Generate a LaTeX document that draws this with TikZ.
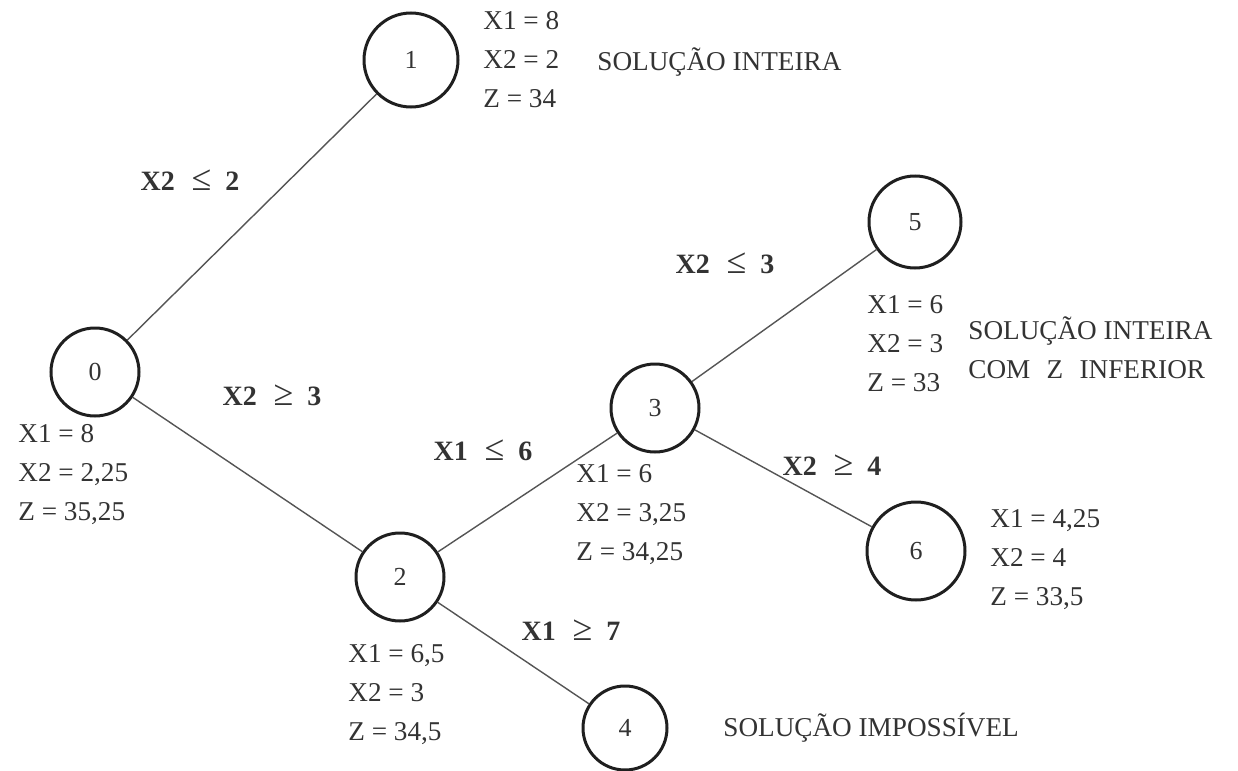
\documentclass[tikz,border=0pt]{standalone}
\usepackage{fontspec}
\setmainfont{Liberation Serif}
\definecolor{ink}{HTML}{333333}
\definecolor{edgegray}{HTML}{555555}
\newcommand{\relsym}[1]{{\fontsize{18}{18}\selectfont\mdseries #1}}
\begin{document}
\begin{tikzpicture}[x=0.5pt,y=-0.5pt,
  bbnode/.style={circle,draw=black!88,line width=1.5pt,inner sep=0pt,text=ink,
    font=\fontsize{13}{19.5}\selectfont},
  data/.style={anchor=west,align=left,inner sep=0pt,text=ink,
    font=\fontsize{13.6}{19.5}\selectfont},
  note/.style={anchor=west,align=left,inner sep=0pt,text=ink,
    font=\fontsize{13.6}{19.5}\selectfont},
  cut/.style={inner sep=0pt,text=ink,font=\fontsize{14}{16}\selectfont\bfseries},
  branch/.style={draw=edgegray,line width=0.7pt}]
\useasboundingbox (0,0) rectangle (1238,771);
% nodes
\node[bbnode,minimum size=44pt] (n0) at (95,372) {0};
\node[bbnode,minimum size=47pt] (n1) at (411,60) {1};
\node[bbnode,minimum size=44pt] (n2) at (400,577) {2};
\node[bbnode,minimum size=44pt] (n3) at (655,408) {3};
\node[bbnode,minimum size=42pt] (n4) at (625,728) {4};
\node[bbnode,minimum size=46pt] (n5) at (915,222) {5};
\node[bbnode,minimum size=49pt] (n6) at (916,551) {6};
% edges
\draw[branch] (n0) -- (n1);
\draw[branch] (n0) -- (n2);
\draw[branch] (n2) -- (n3);
\draw[branch] (n2) -- (n4);
\draw[branch] (n3) -- (n5);
\draw[branch] (n3) -- (n6);
% branch labels
\node[cut] (c1) at (190,180) {X2\hspace{0.6em}\relsym{≤}\hspace{0.5em}2};
\node[cut] (c2) at (272,395) {X2\hspace{0.6em}\relsym{≥}\hspace{0.5em}3};
\node[cut] (c3) at (483,450) {X1\hspace{0.6em}\relsym{≤}\hspace{0.5em}6};
\node[cut] (c4) at (571,630) {X1\hspace{0.6em}\relsym{≥}\hspace{0.5em}7};
\node[cut] (c5) at (725,263) {X2\hspace{0.6em}\relsym{≤}\hspace{0.5em}3};
\node[cut] (c6) at (832,465) {X2\hspace{0.6em}\relsym{≥}\hspace{0.5em}4};
% data
\node[data] (d0) at (18,475) {X1 = 8\\X2 = 2,25\\Z = 35,25};
\node[data] (d1) at (483,60) {X1 = 8\\X2 = 2\\Z = 34};
\node[data] (d2) at (348,695) {X1 = 6,5\\X2 = 3\\Z = 34,5};
\node[data] (d3) at (576,515) {X1 = 6\\X2 = 3,25\\Z = 34,25};
\node[data] (d5) at (867,344) {X1 = 6\\X2 = 3\\Z = 33};
\node[data] (d6) at (990,560) {X1 = 4,25\\X2 = 4\\Z = 33,5};
% notes
\node[note] (s1) at (597,62) {SOLUÇÃO INTEIRA};
\node[note] (s5) at (968,348) {SOLUÇÃO INTEIRA\\COM\hspace{0.6em}Z\hspace{0.6em}INFERIOR};
\node[note] (s4) at (723,728) {SOLUÇÃO IMPOSSÍVEL};
\end{tikzpicture}
\end{document}
